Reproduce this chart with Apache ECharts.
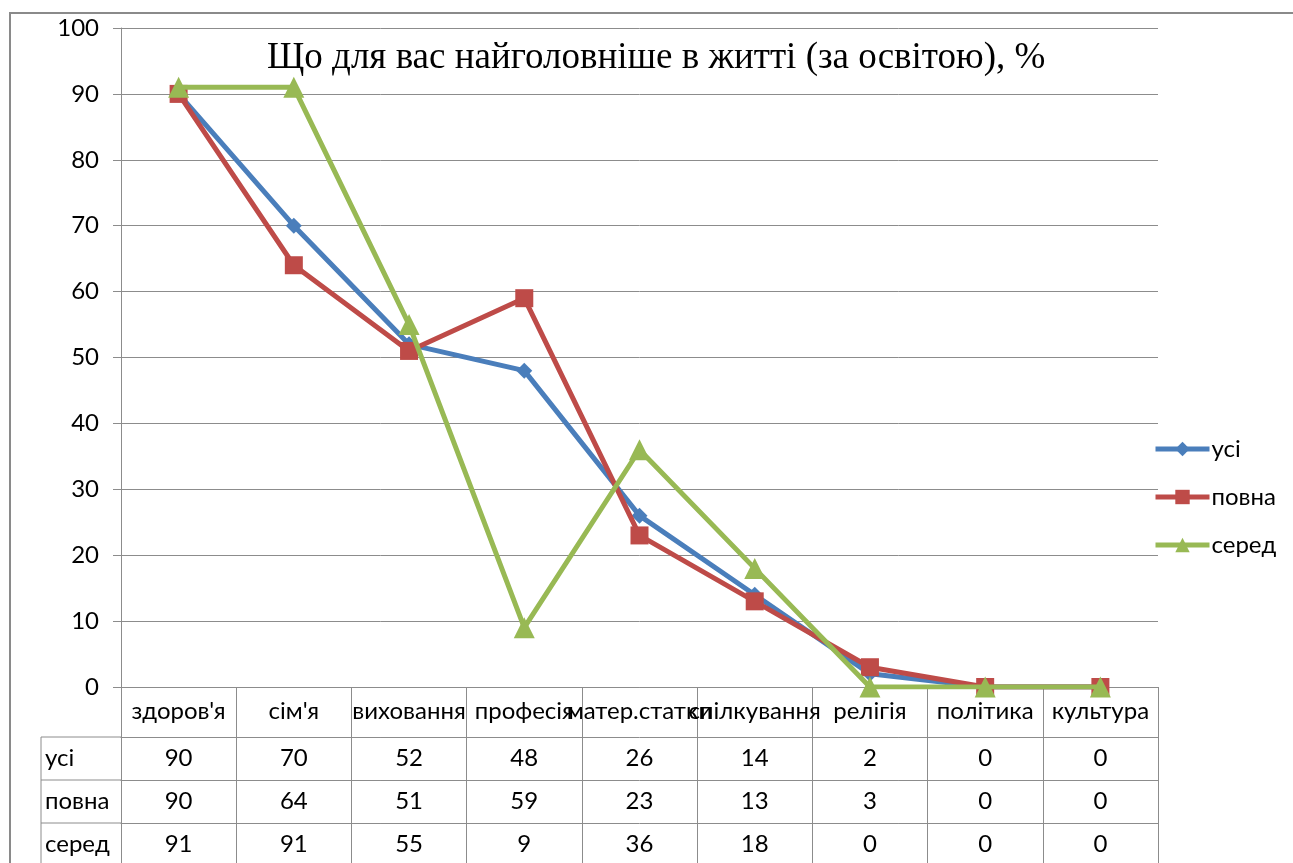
<!DOCTYPE html>
<html>
<head>
<meta charset="utf-8">
<script src="https://cdn.jsdelivr.net/npm/echarts@6/dist/echarts.min.js"></script>
<style>
    html, body { margin: 0; padding: 0; background: #fff; }
    #main { width: 1293px; height: 863px; }
</style>
</head>
<body>
<div id="main"></div>
<script>
// дані
const categories = ["здоров'я", "сім'я", "виховання", "професія", "матер.статки", "спілкування", "релігія", "політика", "культура"];
const seriesNames = ['усі', 'повна', 'серед'];
const usi = [90, 70, 52, 48, 26, 14, 2, 0, 0];
const povna = [90, 64, 51, 59, 23, 13, 3, 0, 0];
const sered = [91, 91, 55, 9, 36, 18, 0, 0, 0];
const yTicks = [0, 100, 10]; // min, max, interval

const colors = ['#4A7EBB', '#BE4B48', '#98B954'];
const symbols = ['diamond', 'rect', 'triangle'];
const symbolSizes = [16, 18, 21];
const rows = [usi, povna, sered];

const gridLine = '#8C8C8C';
const font = 'Lato';
const fs = 24;

// положення
const gridLeft = 121, gridRight = 135, gridTop = 28, gridBottom = 176;
const headerH = 50, rowH = 43, labelColLeft = 41;

const chart = echarts.init(document.getElementById('main'));

const xAxes = [{
    type: 'category',
    data: categories,
    boundaryGap: true,
    axisLine: { lineStyle: { color: gridLine, width: 1 } },
    axisTick: { show: true, length: headerH, interval: 0, lineStyle: { color: gridLine } },
    axisLabel: { interval: 0, color: '#000', fontFamily: font, fontSize: fs, margin: 12 }
}];
rows.forEach((r, i) => {
    xAxes.push({
        type: 'category',
        gridIndex: 0,
        position: 'bottom',
        offset: headerH + rowH * i,
        data: r.map(String),
        boundaryGap: true,
        axisLine: { show: true, lineStyle: { color: gridLine, width: 1 } },
        axisTick: { show: true, length: rowH, interval: 0, lineStyle: { color: gridLine } },
        axisLabel: { interval: 0, color: '#000', fontFamily: font, fontSize: fs, margin: 9 }
    });
});

const series = rows.map((r, i) => ({
    name: seriesNames[i],
    type: 'line',
    xAxisIndex: 0,
    data: r,
    symbol: symbols[i],
    symbolSize: symbolSizes[i],
    showAllSymbol: true,
    lineStyle: { color: colors[i], width: 5 },
    itemStyle: { color: colors[i] },
    emphasis: { disabled: true },
    z: 3 + i
}));

// таблиця: стовпчик з назвами рядів
const graphics = [{
    type: 'rect',
    shape: { x: 10, y: 13, width: 1400, height: 1000 },
    style: { fill: 'none', stroke: '#8A8A8A', lineWidth: 2 },
    silent: true
}];
const tableTop = 863 - gridBottom + headerH;
graphics.push({
    type: 'line',
    shape: { x1: labelColLeft, y1: tableTop, x2: labelColLeft, y2: 900 },
    style: { stroke: gridLine, lineWidth: 1 }
});
seriesNames.forEach((n, i) => {
    const y = tableTop + rowH * i;
    graphics.push({
        type: 'line',
        shape: { x1: labelColLeft, y1: y, x2: gridLeft, y2: y },
        style: { stroke: gridLine, lineWidth: 1 }
    });
    graphics.push({
        type: 'text',
        x: labelColLeft + 4,
        y: y + rowH / 2,
        style: { text: n, fill: '#000', font: fs + 'px ' + font, textVerticalAlign: 'middle' }
    });
});

const option = {
    backgroundColor: '#fff',
    animation: false,
    title: {
        text: 'Що для вас найголовніше в житті (за освітою), %',
        left: 262,
        top: 35,
        textStyle: { fontFamily: 'Liberation Serif', fontWeight: 'normal', fontSize: 37, color: '#000' }
    },
    legend: {
        orient: 'vertical',
        left: 1148,
        top: 432,
        itemGap: 24,
        itemWidth: 54,
        itemHeight: 18,
        data: seriesNames,
        lineStyle: { width: 5 },
        textStyle: { fontFamily: font, fontSize: fs, color: '#000', padding: [0, 0, 0, -3] }
    },
    grid: { left: gridLeft, right: gridRight, top: gridTop, bottom: gridBottom, containLabel: false },
    xAxis: xAxes,
    yAxis: {
        type: 'value',
        min: yTicks[0],
        max: yTicks[1],
        interval: yTicks[2],
        axisLine: { show: true, lineStyle: { color: gridLine } },
        axisTick: { show: true, length: 8, lineStyle: { color: gridLine } },
        axisLabel: { color: '#000', fontFamily: font, fontSize: fs, margin: 22 },
        splitLine: { lineStyle: { color: gridLine, width: 1 } }
    },
    graphic: graphics,
    series: series
};
chart.setOption(option);
</script>
</body>
</html>
